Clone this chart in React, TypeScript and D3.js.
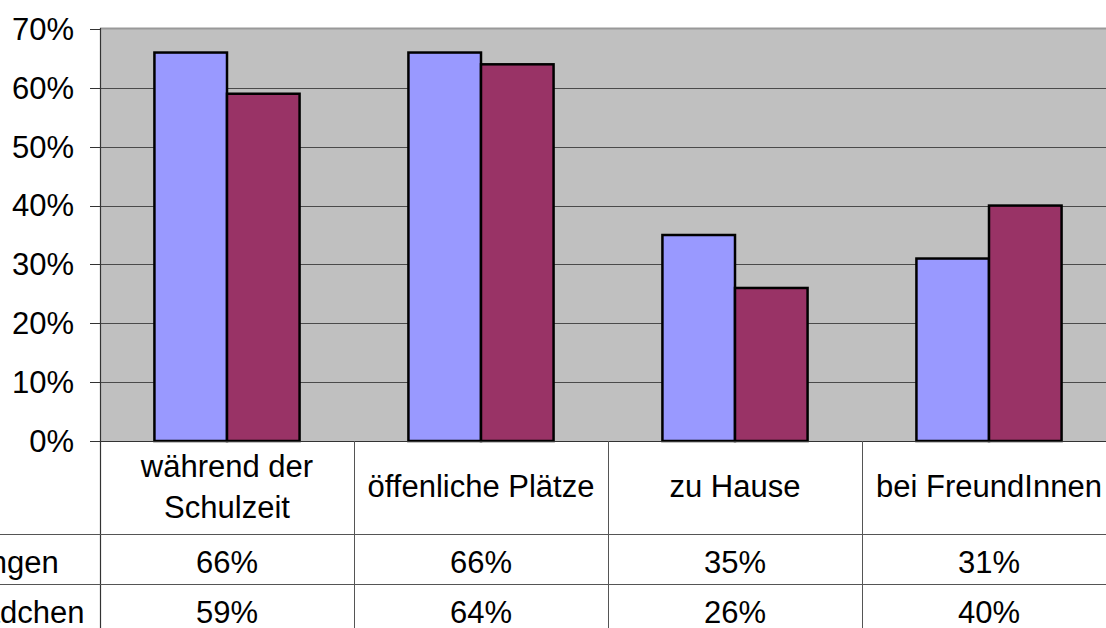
import * as d3 from "d3";

// chart data
const categories = ["während der Schulzeit", "öffenliche Plätze", "zu Hause", "bei FreundInnen"];
const categoryLines = [["während der", "Schulzeit"], ["öffenliche Plätze"], ["zu Hause"], ["bei FreundInnen"]];
const seriesNames = ["Jungen", "Mädchen"];
const jungen = [0.66, 0.66, 0.35, 0.31];
const maedchen = [0.59, 0.64, 0.26, 0.4];
const yTicks = [0, 0.1, 0.2, 0.3, 0.4, 0.5, 0.6, 0.7];

const colors = ["#9999FF", "#993366"];
const fontFamily = "'Liberation Sans', Arial, Helvetica, sans-serif";

export default function App() {
  const width = 1106;
  const height = 628;
  const plotLeft = 100;
  const plotRight = 1116; // the chart continues past the window edge
  const plotTop = 29;
  const plotBottom = 441;
  const headerBottom = 534;
  const rowHeight = 49.5;

  const values = [jungen, maedchen];

  const x = d3
    .scaleBand<string>()
    .domain(categories)
    .range([plotLeft, plotRight])
    .paddingInner(1.5 / 3.5)
    .paddingOuter(0.75 / 3.5);

  const xs = d3
    .scaleBand<string>()
    .domain(seriesNames)
    .range([0, x.bandwidth()]);

  const y = d3.scaleLinear().domain([0, 0.7]).range([plotBottom, plotTop]);

  const step = x.step();
  const cellLeft = (c: string) => (x(c) ?? 0) - (step - x.bandwidth()) / 2;
  const fmt = d3.format(".0%");

  return (
    <svg
      width={width}
      height={height}
      style={{position: "absolute", left: 0, top: 0, background: "#fff"}}
      fontFamily={fontFamily}
    >
      {/* Plot area */}
      <rect x={plotLeft} y={plotTop} width={plotRight - plotLeft} height={plotBottom - plotTop} fill="#C0C0C0" />
      <line x1={plotLeft} x2={plotRight} y1={plotTop - 0.5} y2={plotTop - 0.5} stroke="#999" strokeWidth={2} />

      {/* Gridlines */}
      {yTicks
        .filter((t) => t > 0 && t < 0.7)
        .map((t) => (
          <line
            key={`g${t}`}
            x1={plotLeft}
            x2={plotRight}
            y1={Math.round(y(t)) + 0.5}
            y2={Math.round(y(t)) + 0.5}
            stroke="#4a4a4a"
            strokeWidth={1}
          />
        ))}

      {/* Bars */}
      {values.map((series, si) =>
        series.map((v, ci) => {
          const c = categories[ci];
          const bx = (x(c) ?? 0) + (xs(seriesNames[si]) ?? 0);
          return (
            <rect
              key={`b${si}-${ci}`}
              x={bx}
              y={y(v)}
              width={xs.bandwidth()}
              height={plotBottom - y(v)}
              fill={colors[si]}
              stroke="#000"
              strokeWidth={2.5}
            />
          );
        }),
      )}

      {/* Y axis */}
      <line x1={plotLeft + 0.5} x2={plotLeft + 0.5} y1={plotTop - 1} y2={height} stroke="#333" strokeWidth={1.2} />
      {yTicks.map((t) => (
        <g key={`t${t}`}>
          <line x1={90} x2={plotLeft} y1={Math.round(y(t)) + 0.5} y2={Math.round(y(t)) + 0.5} stroke="#333" />
          <text x={74} y={y(t)} dy="0.35em" textAnchor="end" fontSize={31} fill="#000">
            {fmt(t)}
          </text>
        </g>
      ))}

      {/* Data table */}
      <line x1={plotLeft} x2={plotRight} y1={plotBottom + 0.5} y2={plotBottom + 0.5} stroke="#333" strokeWidth={1.2} />
      {categories.map((c, i) =>
        i === 0 ? null : (
          <line
            key={`v${c}`}
            x1={Math.round(cellLeft(c)) + 0.5}
            x2={Math.round(cellLeft(c)) + 0.5}
            y1={plotBottom}
            y2={height}
            stroke="#555"
          />
        ),
      )}
      {[headerBottom, headerBottom + rowHeight].map((ry) => (
        <line key={`h${ry}`} x1={0} x2={plotRight} y1={Math.round(ry) + 0.5} y2={Math.round(ry) + 0.5} stroke="#555" />
      ))}

      {categories.map((c, i) => {
        const cx = (x(c) ?? 0) + x.bandwidth() / 2;
        const lines = categoryLines[i];
        const baselines = lines.length === 2 ? [477, 518] : [497];
        return lines.map((ln, li) => (
          <text key={`c${i}-${li}`} x={cx} y={baselines[li]} textAnchor="middle" fontSize={31} fill="#000">
            {ln}
          </text>
        ));
      })}

      {seriesNames.map((s, si) => {
        const by = headerBottom + rowHeight * si + 39;
        return (
          <g key={`r${s}`}>
            <text x={-43} y={by} fontSize={31} fill="#000">
              {s}
            </text>
            {values[si].map((v, ci) => (
              <text
                key={`d${si}-${ci}`}
                x={(x(categories[ci]) ?? 0) + x.bandwidth() / 2}
                y={by}
                textAnchor="middle"
                fontSize={31}
                fill="#000"
              >
                {fmt(v)}
              </text>
            ))}
          </g>
        );
      })}
    </svg>
  );
}
